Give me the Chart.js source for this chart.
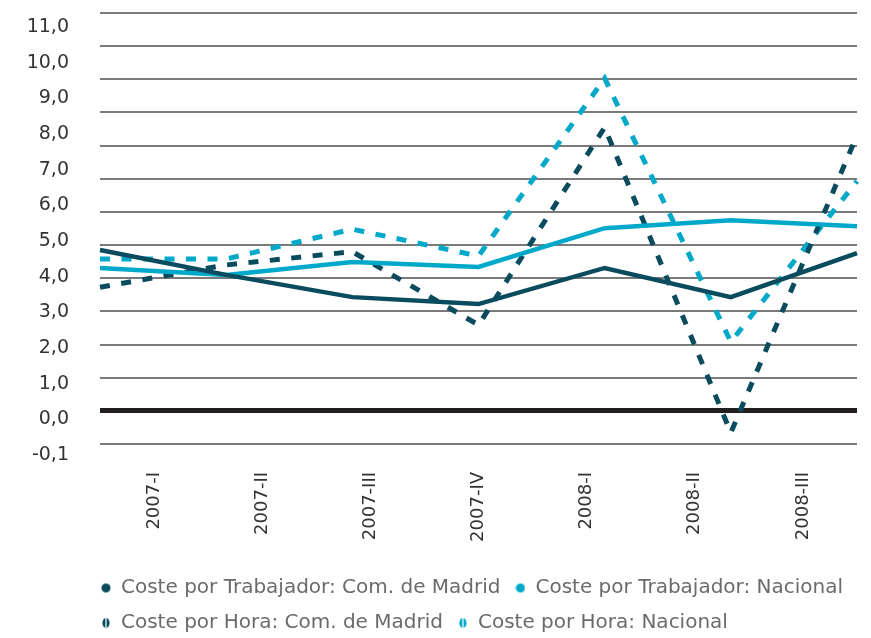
<!DOCTYPE html>
<html lang="es">
<head>
<meta charset="utf-8">
<title>Coste laboral</title>
<script src="https://cdn.jsdelivr.net/npm/chart.js"></script>
<style>
    html, body { margin: 0; padding: 0; background: #ffffff; }
    canvas { display: block; }
</style>
</head>
<body>
<canvas id="costChart" width="871" height="638"></canvas>
<script>
// Quarters on the x axis
const quarters = ['2007-I', '2007-II', '2007-III', '2007-IV', '2008-I', '2008-II', '2008-III'];

// Series values
const trabajadorMadrid = [4.85, 4.1, 3.43, 3.22, 4.31, 3.43, 4.76];
const trabajadorNacional = [4.31, 4.1, 4.49, 4.34, 5.51, 5.75, 5.57];
const horaMadrid = [3.73, 4.4, 4.8, 2.59, 8.55, -0.66, 8.31];
const horaNacional = [4.58, 4.58, 5.48, 4.67, 10.03, 2.08, 6.93];

// Horizontal grid lines and the y tick labels as printed in the source
const gridValues = [-1, 0, 1, 2, 3, 4, 5, 6, 7, 8, 9, 10, 11, 12];
const yTickValues = [-1, 0, 1, 2, 3, 4, 5, 6, 7, 8, 9, 10, 11];
const yTickLabels = ['-0,1', '0,0', '1,0', '2,0', '3,0', '4,0', '5,0', '6,0', '7,0', '8,0', '9,0', '10,0', '11,0'];

const colors = {
    dark: '#0a4b5e',
    light: '#00a9c9',
    grid: '#7a7a7a',
    zero: '#231f20',
    axisText: '#333333',
    legendText: '#6b6b6b'
};

Chart.defaults.font.family = "'DejaVu Sans', sans-serif";

// Legend markers: plain dot for solid series, split dot for dashed ones
function makeMarker(color, split) {
    const c = document.createElement('canvas');
    c.width = 10;
    c.height = 11;
    const g = c.getContext('2d');
    g.fillStyle = color;
    g.beginPath();
    if (split) {
        g.ellipse(5, 5.5, 3.6, 5, 0, 0, Math.PI * 2);
    } else {
        g.arc(5, 5.5, 4.5, 0, Math.PI * 2);
    }
    g.fill();
    if (split) {
        g.fillStyle = '#ffffff';
        g.fillRect(4.4, 0, 1.2, 11);
    }
    return c;
}

// Nudges the legend so its rows start under the plot's left edge
const legendNudge = {
    id: 'legendNudge',
    afterLayout(chart) {
        const lg = chart.legend;
        if (!lg) return;
        lg.left += 60;
        lg.right += 60;
        lg.top += 5;
        lg.bottom += 5;
    }
};

function lineSet(label, data, color, dashed) {
    return {
        label: label,
        data: data,
        borderColor: color,
        backgroundColor: color,
        borderWidth: dashed ? 5 : 4.5,
        borderDash: dashed ? [10, 11.5] : [],
        borderCapStyle: 'butt',
        pointRadius: 0,
        pointHoverRadius: 0,
        tension: 0,
        fill: false,
        pointStyle: makeMarker(color, dashed)
    };
}

const ctx = document.getElementById('costChart').getContext('2d');
new Chart(ctx, {
    type: 'line',
    data: {
        labels: quarters,
        datasets: [
            lineSet('Coste por Trabajador: Com. de Madrid', trabajadorMadrid, colors.dark, false),
            lineSet('Coste por Trabajador: Nacional', trabajadorNacional, colors.light, false),
            lineSet('Coste por Hora: Com. de Madrid', horaMadrid, colors.dark, true),
            lineSet('Coste por Hora: Nacional', horaNacional, colors.light, true)
        ]
    },
    options: {
        responsive: false,
        devicePixelRatio: 1,
        animation: false,
        layout: {
            padding: { top: 13, left: 26, right: 14, bottom: 0 }
        },
        plugins: {
            tooltip: { enabled: false },
            legend: {
                position: 'bottom',
                align: 'start',
                labels: {
                    usePointStyle: true,
                    boxWidth: 10,
                    boxHeight: 10,
                    padding: 15,
                    color: colors.legendText,
                    font: { size: 20 }
                }
            }
        },
        scales: {
            // data axis: points spread edge to edge
            x: {
                type: 'category',
                offset: false,
                display: false
            },
            // label axis: quarter names centred in their slots
            xl: {
                type: 'category',
                position: 'bottom',
                offset: true,
                grid: { display: false, drawTicks: false },
                border: { display: false },
                ticks: {
                    autoSkip: false,
                    minRotation: 90,
                    maxRotation: 90,
                    padding: 16,
                    color: colors.axisText,
                    font: { size: 18 }
                },
                afterFit(scale) {
                    scale.height = 102;
                }
            },
            // grid axis carrying the data; also the gap between labels and plot
            y: {
                position: 'left',
                weight: 0,
                min: -1.362,
                max: 12,
                afterBuildTicks(scale) {
                    scale.ticks = gridValues.map(v => ({ value: v }));
                },
                grid: {
                    drawTicks: false,
                    color: c => (c.tick && c.tick.value === 0 ? colors.zero : colors.grid),
                    lineWidth: c => (c.tick && c.tick.value === 0 ? 5 : 2)
                },
                border: { display: false },
                ticks: { display: false },
                afterFit(scale) {
                    scale.width = 31;
                }
            },
            // printed tick labels, spaced as in the source
            yl: {
                position: 'left',
                weight: 1,
                min: -1.028,
                max: 11.393,
                afterBuildTicks(scale) {
                    scale.ticks = yTickValues.map(v => ({ value: v }));
                },
                grid: { display: false, drawTicks: false },
                border: { display: false },
                ticks: {
                    padding: 0,
                    color: colors.axisText,
                    font: { size: 19 },
                    callback: (value) => yTickLabels[yTickValues.indexOf(value)]
                },
                afterFit(scale) {
                    scale.width = 43;
                }
            }
        }
    },
    plugins: [legendNudge]
});
</script>
</body>
</html>
